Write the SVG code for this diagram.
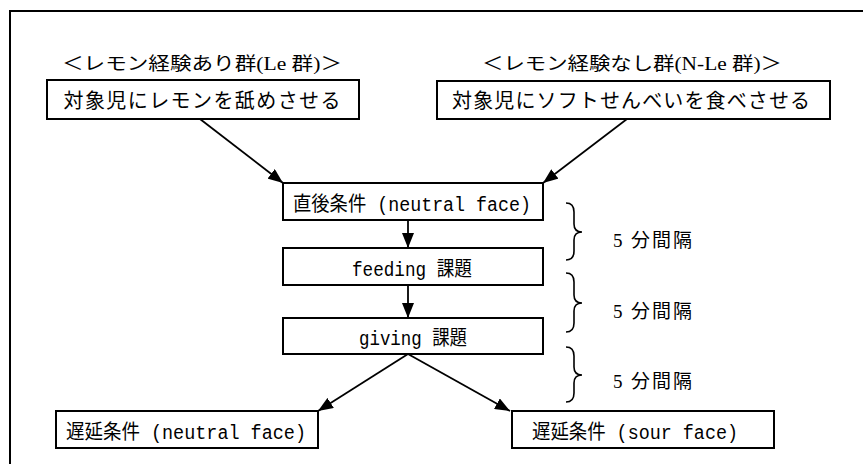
<svg xmlns="http://www.w3.org/2000/svg" width="863" height="464" viewBox="0 0 863 464">
<defs>
<style>
.box{fill:#fff;stroke:#000;stroke-width:2}
.t{font-family:"Liberation Mono","Noto Sans CJK JP",monospace;font-size:20px;fill:#000;text-anchor:middle}
.lab{font-family:"Liberation Serif","Noto Sans CJK JP",serif;font-size:18px;fill:#000;text-anchor:middle}
.gap{font-family:"Liberation Serif","Noto Sans CJK JP",serif;font-size:19px;fill:#000}
.ln{stroke:#000;stroke-width:1.8;fill:none}
.br{stroke:#000;stroke-width:1.6;fill:none}
</style>
<marker id="ah" viewBox="0 0 15 12" refX="15" refY="6" markerWidth="15" markerHeight="12" markerUnits="userSpaceOnUse" orient="auto">
<path d="M0,0 L15,6 L0,12 z" fill="#000"/>
</marker>
</defs>
<rect x="0" y="0" width="863" height="464" fill="#fff"/>
<rect x="10" y="11" width="900" height="500" fill="none" stroke="#000" stroke-width="2"/>

<g id="label-le"><text class="lab" x="202" y="70" textLength="280" lengthAdjust="spacingAndGlyphs">＜レモン経験あり群(Le 群)＞</text></g>
<g id="label-nle"><text class="lab" x="632" y="70" textLength="300" lengthAdjust="spacingAndGlyphs">＜レモン経験なし群(N-Le 群)＞</text></g>

<g id="node-lemon"><rect class="box" x="47" y="80" width="312" height="39"/><text class="t" x="202" y="108" textLength="277" lengthAdjust="spacing">対象児にレモンを舐めさせる</text></g>
<g id="node-senbei"><rect class="box" x="437" y="81" width="393" height="38"/><text class="t" x="631" y="108" textLength="358" lengthAdjust="spacing">対象児にソフトせんべいを食べさせる</text></g>

<g id="node-immediate"><rect class="box" x="283" y="183" width="260" height="37"/><text class="t" x="412" y="211" textLength="238" lengthAdjust="spacingAndGlyphs">直後条件 (neutral face)</text></g>
<g id="node-feeding"><rect class="box" x="283" y="248" width="260" height="37"/><text class="t" x="412" y="276" textLength="120" lengthAdjust="spacingAndGlyphs">feeding 課題</text></g>
<g id="node-giving"><rect class="box" x="283" y="318" width="260" height="36"/><text class="t" x="413" y="345" textLength="108" lengthAdjust="spacingAndGlyphs">giving 課題</text></g>

<g id="node-delay-neutral"><rect class="box" x="56" y="411" width="262" height="37"/><text class="t" x="186" y="439" textLength="240" lengthAdjust="spacingAndGlyphs">遅延条件 (neutral face)</text></g>
<g id="node-delay-sour"><rect class="box" x="512" y="411" width="262" height="37"/><text class="t" x="635" y="439" textLength="206" lengthAdjust="spacingAndGlyphs">遅延条件 (sour face)</text></g>

<g id="connectors">
<line class="ln" x1="200" y1="119" x2="283" y2="183" marker-end="url(#ah)"/>
<line class="ln" x1="627" y1="119" x2="543" y2="183" marker-end="url(#ah)"/>
<line class="ln" x1="408" y1="220" x2="408" y2="248" marker-end="url(#ah)"/>
<line class="ln" x1="408" y1="285" x2="408" y2="318" marker-end="url(#ah)"/>
<line class="ln" x1="408" y1="354" x2="318" y2="411" marker-end="url(#ah)"/>
<line class="ln" x1="408" y1="354" x2="510" y2="411" marker-end="url(#ah)"/>
</g>

<g id="braces">
<path class="br" d="M566,203 Q574,203 574,212 L574,224 Q574,232 582,232 Q574,232 574,240 L574,251 Q574,260 566,260"/>
<path class="br" d="M566,273 Q574,273 574,282 L574,295 Q574,303 582,303 Q574,303 574,311 L574,323 Q574,332 566,332"/>
<path class="br" d="M566,347 Q574,347 574,356 L574,367 Q574,375 582,375 Q574,375 574,383 L574,393 Q574,402 566,402"/>
</g>

<g id="gap-labels">
<text class="gap" x="613" y="247" textLength="79" lengthAdjust="spacing">5 分間隔</text>
<text class="gap" x="613" y="318" textLength="79" lengthAdjust="spacing">5 分間隔</text>
<text class="gap" x="613" y="388" textLength="79" lengthAdjust="spacing">5 分間隔</text>
</g>
</svg>
